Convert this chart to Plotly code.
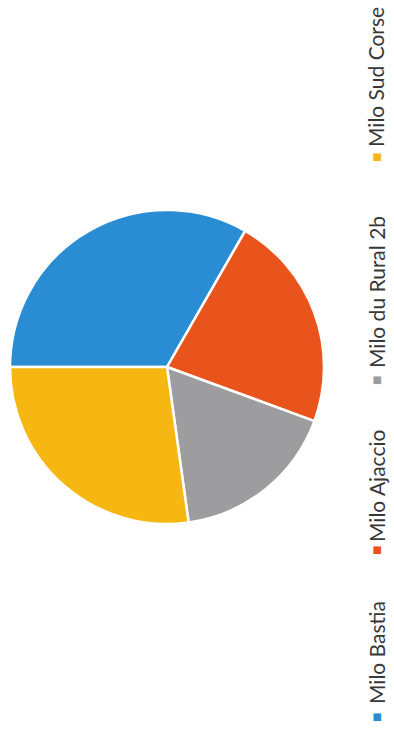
import plotly.graph_objects as go

labels = ["Milo Bastia", "Milo Ajaccio", "Milo du Rural 2b", "Milo Sud Corse"]
values = [33.3, 22.3, 17.2, 27.2]
colors = ["#2A8DD4", "#E9541C", "#9D9D9F", "#F7B712"]

W, H = 394, 730

fig = go.Figure()
fig.add_trace(go.Pie(
    labels=labels,
    values=values,
    sort=False,
    direction="clockwise",
    rotation=270,
    textinfo="none",
    hoverinfo="label+percent",
    marker=dict(colors=colors, line=dict(color="white", width=2.5)),
    domain=dict(x=[10 / W, 324 / W], y=[1 - 526 / H, 1 - 208 / H]),
    showlegend=False,
))

# rotated legend (reads bottom to top)
label_centers_y = [653, 486, 292, 77]
square_centers_y = [718, 551, 381, 158]
for lab, col, ty, sy in zip(labels, colors, label_centers_y, square_centers_y):
    fig.add_annotation(
        x=376 / W, y=1 - ty / H, xref="paper", yref="paper",
        text=lab, showarrow=False, textangle=-90,
        xanchor="center", yanchor="middle",
        font=dict(family="Lato", size=21, color="#383838"),
    )
    fig.add_annotation(
        x=376 / W, y=1 - sy / H, xref="paper", yref="paper",
        text="■", showarrow=False, textangle=-90,
        xanchor="center", yanchor="middle",
        font=dict(family="DejaVu Sans", size=10, color=col),
    )

fig.update_layout(
    width=W, height=H,
    margin=dict(l=0, r=0, t=0, b=0),
    paper_bgcolor="white",
    plot_bgcolor="white",
)

fig.write_html(
    "out.html",
    config={"displayModeBar": False},
    post_script="document.body.style.margin='0';document.body.style.overflow='hidden';",
)
